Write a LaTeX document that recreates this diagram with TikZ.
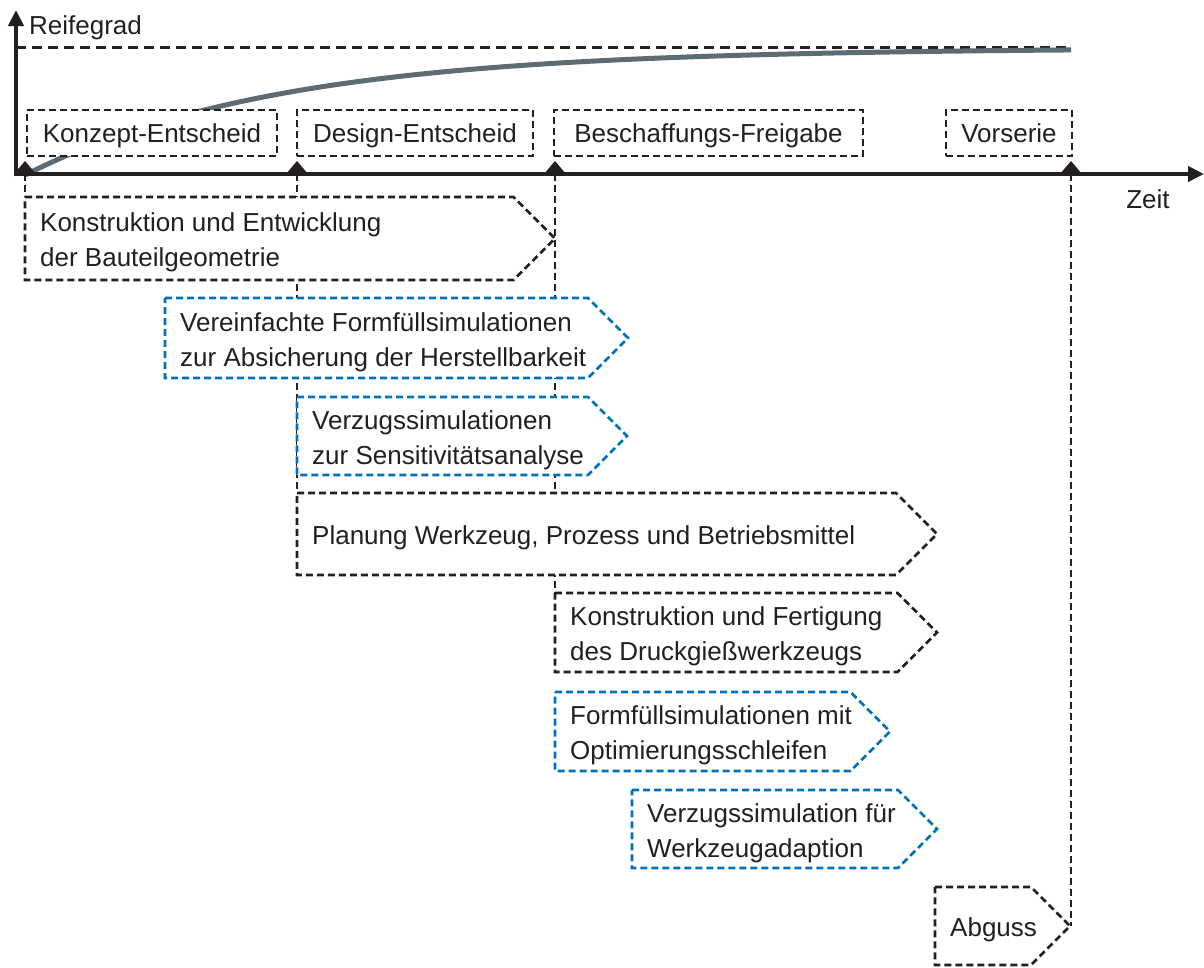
\documentclass[tikz,border=0pt]{standalone}
\usepackage{fontspec}
\setmainfont{Liberation Sans}
\usetikzlibrary{arrows.meta}

\definecolor{ink}{RGB}{35,31,32}
\definecolor{simblue}{RGB}{0,114,188}
\definecolor{curvegray}{RGB}{93,108,114}

\tikzset{
  lbl/.style={text=ink, font=\fontsize{26}{35}\selectfont, inner sep=0pt},
  axisline/.style={ink, line width=4.5pt, -{Triangle[length=16pt,width=15pt]}},
  guide/.style={ink, line width=2.7pt, dash pattern=on 7pt off 4pt},
  refline/.style={ink, line width=3pt, dash pattern=on 10pt off 6pt},
  phaseline/.style={line width=2.7pt, dash pattern=on 7pt off 4pt, fill=white},
  milestone/.style={lbl, draw=ink, line width=2.7pt, dash pattern=on 7pt off 4pt,
    fill=white, minimum height=46pt, text height=19pt, text depth=0pt},
}

% phase arrow: name, left x, top y, tip x, bottom y, colour, text
\newcommand\phasebox[7]{%
  \pgfmathsetmacro\phhalf{(#5-#3)/2}%
  \pgfmathsetmacro\phmid{(#5+#3)/2}%
  \draw[phaseline, draw=#6] (#2,#3) -- ({#4-\phhalf},#3) -- (#4,\phmid)
     -- ({#4-\phhalf},#5) -- (#2,#5) -- cycle;
  \node[lbl, anchor=west, align=left] (#1) at ({#2+15},{\phmid+4}) {#7};
}

\begin{document}
\begin{tikzpicture}[x=1pt, y=-1pt]
\useasboundingbox (0,0) rectangle (1204,967);

% maturity curve and its limit
\draw[refline] (16,47) -- (1071,47);
\draw[curvegray, line width=5pt]
  plot[domain=25:1071, samples=90] (\x, {48+127*exp(-0.004*(\x-25))});

% milestone positions on the time axis
\coordinate (m1) at (25,174);
\coordinate (m2) at (297,174);
\coordinate (m3) at (555,174);
\coordinate (m4) at (1071,174);

% guide lines dropping from the milestones
\coordinate (g1) at (25,197);
\coordinate (g2) at (297,493);
\coordinate (g3) at (555,593);
\coordinate (g4) at (1071,926);
\draw[guide] (m1) -- (g1);
\draw[guide] (m2) -- (g2);
\draw[guide] (m3) -- (g3);
\draw[guide] (m4) -- (g4);

% phases
\phasebox{p1}{25}{197}{555}{280}{ink}{Konstruktion und Entwicklung\\der Bauteilgeometrie}
\phasebox{p2}{165}{298}{628}{378}{simblue}{Vereinfachte Formfüllsimulationen\\zur Absicherung der Herstellbarkeit}
\phasebox{p3}{297}{397}{627}{475}{simblue}{Verzugssimulationen\\zur Sensitivitätsanalyse}
\phasebox{p4}{297}{493}{937}{575}{ink}{Planung Werkzeug, Prozess und Betriebsmittel}
\phasebox{p5}{555}{593}{937}{672}{ink}{Konstruktion und Fertigung\\des Druckgießwerkzeugs}
\phasebox{p6}{555}{692}{890}{771}{simblue}{Formfüllsimulationen mit\\Optimierungsschleifen}
\phasebox{p7}{632}{790}{937}{868}{simblue}{Verzugssimulation für\\Werkzeugadaption}
\phasebox{p8}{935}{887}{1070}{965}{ink}{Abguss}

% milestone labels
\node[milestone, minimum width=250pt] (konzept) at (152,133) {Konzept-Entscheid};
\node[milestone, minimum width=236pt] (design) at (415,133) {Design-Entscheid};
\node[milestone, minimum width=309pt] (beschaffung) at (708.5,133) {Beschaffungs-Freigabe};
\node[milestone, minimum width=126pt] (vorserie) at (1009,133) {Vorserie};

% axes
\coordinate (origin) at (16,174);
\coordinate (ytip) at (16,10);
\coordinate (xtip) at (1204,174);
\draw[axisline] ([xshift=-2.25pt]origin) -- (xtip);
\draw[axisline] ([yshift=-2.25pt]origin) -- (ytip);
\node[lbl, anchor=west] (reife) at (29,28) {Reifegrad};
\node[lbl] (zeit) at (1148,199) {Zeit};

% milestone markers
\foreach \m in {m1,m2,m3,m4}
  \fill[ink] (\m) ++(-11,0) -- ++(11,-13) -- ++(11,13) -- cycle;
\end{tikzpicture}
\end{document}
